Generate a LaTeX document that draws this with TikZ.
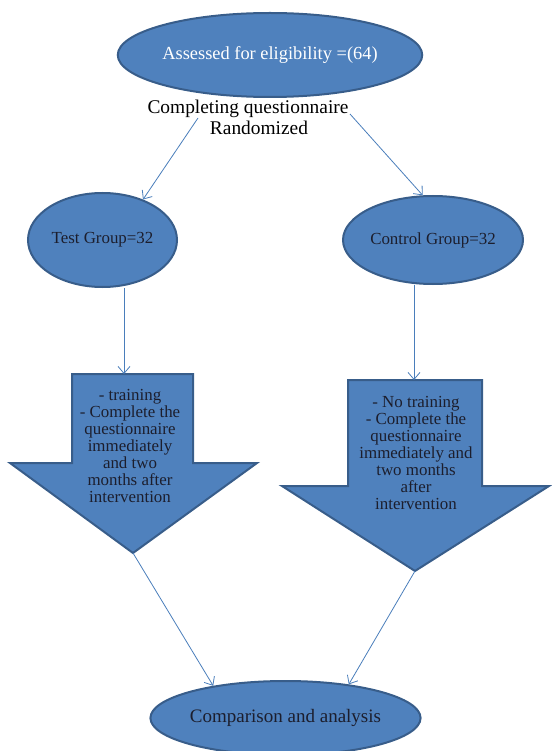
\documentclass[tikz,border=0pt]{standalone}
\usepackage{fontspec}
\setmainfont{Liberation Serif}
\usetikzlibrary{arrows.meta,shapes.geometric}
\definecolor{OvalBlue}{RGB}{79,129,189}
\definecolor{OvalEdge}{RGB}{56,93,138}
\definecolor{LinkBlue}{RGB}{74,126,187}
\definecolor{TextDark}{RGB}{28,30,45}

\begin{document}
\begin{tikzpicture}[x=1pt,y=-1pt,
oval/.style={ellipse,draw=OvalEdge,fill=OvalBlue,line width=2pt,inner sep=0pt,text=TextDark},
block/.style={draw=OvalEdge,fill=OvalBlue,line width=2pt,line join=miter},
blocktext/.style={align=center,text=TextDark,inner sep=0pt,font=\fontsize{16.9}{17}\selectfont},
link/.style={-{Straight Barb[length=7pt,width=12pt]},draw=LinkBlue,line width=0.8pt}
]
\useasboundingbox (0,0) rectangle (551,751);
% top of the flow
\node[oval,minimum width=294pt,minimum height=84pt,text=white,font=\fontsize{18.4}{20}\selectfont] (elig) at (270,55) {Assessed for eligibility =(64)};
\node[align=center,inner sep=0pt,font=\fontsize{19.4}{21}\selectfont] (rand) at (248,117) {Completing questionnaire\\\hspace*{22pt}Randomized};
\coordinate (splitL) at (198,118);
\coordinate (splitR) at (350,114);
% the two groups
\node[oval,minimum width=149pt,minimum height=94pt,font=\fontsize{16.9}{18}\selectfont] (test) at (102.5,240) {Test Group=32};
\node[oval,minimum width=180pt,minimum height=88pt,font=\fontsize{16.9}{18}\selectfont] (ctrl) at (433,240) {Control Group=32};
\draw[link] (splitL) -- (test.45);
\draw[link] (splitR) -- (ctrl.103);
% block arrows
\draw[block] (72,374) -- (193,374) -- (193,463) -- (257,463) -- (133,553) -- (10,463) -- (72,463) -- cycle;
\draw[block] (348,380) -- (482,380) -- (482,486) -- (549,486) -- (415,571) -- (282,486) -- (348,486) -- cycle;
\node[blocktext] (blkA) at (130,446) {- training\\- Complete the\\questionnaire\\immediately\\and two\\months after\\intervention};
\node[blocktext] (blkB) at (416,453) {- No training\\- Complete the\\questionnaire\\immediately and\\two months\\after\\intervention};
\coordinate (topA) at (124,374);
\coordinate (topB) at (414,380);
\coordinate (tipA) at (133,553);
\coordinate (tipB) at (415,571);
\draw[link] (test.south -| topA) -- (topA);
\draw[link] (ctrl.south -| topB) -- (topB);
% end
\node[oval,minimum width=236pt,minimum height=74pt,font=\fontsize{19}{20}\selectfont] (final) at (285.5,718) {Comparison and analysis};
\draw[link] (tipA) -- (final.156);
\draw[link] (tipB) -- (final.28);
\end{tikzpicture}
\end{document}
